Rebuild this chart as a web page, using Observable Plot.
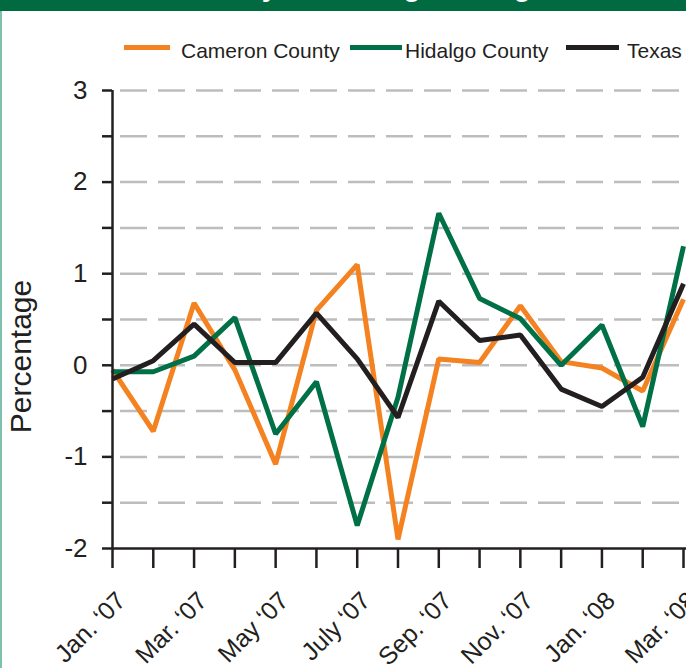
<!DOCTYPE html>
<html><head><meta charset="utf-8">
<script src="https://cdn.jsdelivr.net/npm/d3@7"></script>
<script src="https://cdn.jsdelivr.net/npm/@observablehq/plot@0.6"></script>
<style>
body{margin:0;background:#fff;}
#wrap{position:relative;width:686px;height:668px;overflow:hidden;font-family:"Liberation Sans",Arial,sans-serif;}
#header{position:absolute;left:0;top:0;width:686px;height:11px;background:#016a40;overflow:hidden;z-index:2;}
#title{position:absolute;left:170px;top:-27px;font:bold 28px/28px "Liberation Sans",Arial,sans-serif;color:#fff;white-space:nowrap;}
#border{position:absolute;left:0;top:11px;width:2px;height:657px;background:#7cc0ad;z-index:2;}
.sw{position:absolute;height:5px;top:45px;}
.lt{position:absolute;top:40px;font-size:21px;line-height:21px;color:#231f20;white-space:nowrap;}
#chart{position:absolute;left:0;top:0;}
</style></head>
<body>
<div id="wrap">
  <div id="chart"></div>
  <div id="header"><div id="title">Monthly Percentage Change</div></div>
  <div id="border"></div>
  <div id="legend"></div>
</div>
<script>
const months = ["Jan. ‘07","Feb. ‘07","Mar. ‘07","Apr. ‘07","May ‘07","June ‘07","July ‘07","Aug. ‘07","Sep. ‘07","Oct. ‘07","Nov. ‘07","Dec. ‘07","Jan. ‘08","Feb. ‘08","Mar. ‘08"];
const tickLabels = ["Jan. ‘07","Mar. ‘07","May ‘07","July ‘07","Sep. ‘07","Nov. ‘07","Jan. ‘08","Mar. ‘08"];
const seriesNames = ["Cameron County","Hidalgo County","Texas"];
const seriesColors = ["#f58220","#007047","#231f20"];
const cameron = [-0.05,-0.72,0.68,-0.05,-1.08,0.6,1.1,-1.9,0.07,0.03,0.65,0.04,-0.03,-0.28,0.72];
const hidalgo = [-0.07,-0.07,0.1,0.52,-0.75,-0.18,-1.75,-0.35,1.66,0.73,0.51,0.0,0.44,-0.67,1.3];
const texas = [-0.15,0.05,0.45,0.03,0.03,0.57,0.07,-0.57,0.7,0.27,0.33,-0.26,-0.45,-0.13,0.89];
const yTicks = [-2,-1.5,-1,-0.5,0,0.5,1,1.5,2,2.5,3];
const gridVals = [-1.5,-1,-0.5,0,0.5,1,1.5,2,2.5,3];

const seriesValues = [cameron, hidalgo, texas];
const monthIdx = months.map((m, i) => i);
const labelIdx = tickLabels.map(l => months.indexOf(l));
const rows = [];
seriesNames.forEach((s, k) => months.forEach((m, i) => rows.push({idx: i, month: m, series: s, value: seriesValues[k][i]})));

const chart = Plot.plot({
  width: 686, height: 668,
  marginLeft: 112, marginRight: 0, marginTop: 90, marginBottom: 120,
  style: {fontFamily: "'Liberation Sans', Arial, sans-serif", background: "transparent", color: "#231f20", overflow: "visible"},
  x: {type: "linear", domain: [0, months.length - 1], range: [112, 683]},
  y: {domain: [-2, 3]},
  color: {domain: seriesNames, range: seriesColors},
  marks: [
    Plot.ruleY(gridVals, {stroke: "#bdbdbd", strokeWidth: 2.5, strokeDasharray: "27,11", strokeDashoffset: 30}),
    Plot.axisY({ticks: yTicks, tickSize: 10, tickPadding: 15, stroke: "#231f20", strokeWidth: 2.5, fontSize: 26,
      tickFormat: d => Number.isInteger(d) ? String(d) : "", label: null}),
    Plot.axisX({ticks: monthIdx, tickSize: 20, stroke: "#231f20", strokeWidth: 2.5, tickFormat: () => "", label: null}),
    Plot.text(labelIdx, {x: d => d, text: (d, i) => tickLabels[i], frameAnchor: "bottom", rotate: -45,
      textAnchor: "end", lineAnchor: "top", dx: 2, dy: 41, fontSize: 25, fill: "#231f20"}),
    Plot.text(["Percentage"], {frameAnchor: "left", textAnchor: "middle", rotate: -90, dx: -91, dy: 37, fontSize: 30, fill: "#231f20"}),
    Plot.line(rows, {x: "idx", y: "value", stroke: "series", z: "series", strokeWidth: 5, strokeLinejoin: "miter", strokeLinecap: "butt"}),
    Plot.ruleY([-2], {stroke: "#231f20", strokeWidth: 2.5}),
    Plot.ruleX([0], {y1: -2, y2: 3, stroke: "#231f20", strokeWidth: 2.5})
  ]
});
document.getElementById("chart").appendChild(chart);

const legendPos = [{sw: 124, w: 46, t: 181}, {sw: 350, w: 52, t: 405}, {sw: 566, w: 53, t: 627}];
const leg = document.getElementById("legend");
seriesNames.forEach((s, k) => {
  const sw = document.createElement("div");
  sw.className = "sw"; sw.style.left = legendPos[k].sw + "px"; sw.style.width = legendPos[k].w + "px"; sw.style.background = seriesColors[k];
  leg.appendChild(sw);
  const t = document.createElement("div");
  t.className = "lt"; t.style.left = legendPos[k].t + "px"; t.textContent = s;
  leg.appendChild(t);
});
</script>
</body></html>
